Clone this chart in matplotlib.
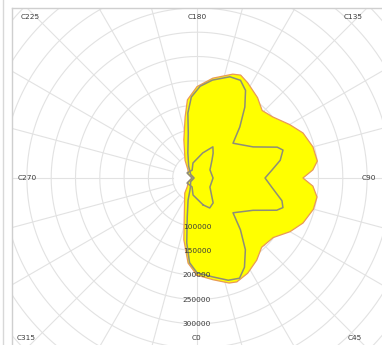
import numpy as np
import matplotlib
matplotlib.use("Agg")
import matplotlib.pyplot as plt
from matplotlib.patches import Rectangle
from matplotlib.lines import Line2D

# ---- data (C-plane angle in degrees, luminous intensity) ----
outer_c = [0, 9, 17, 21, 28, 36, 43, 52, 60, 67, 75, 81, 86, 90, 94, 98, 105, 113,
           120, 129, 136, 143, 152, 157, 161, 171, 180, 187, 191, 199, 214, 228, 245,
           270, 295, 312, 321, 342, 348, 354]
outer_i = [200000, 212000, 226000, 229000, 222000, 209000, 195000, 199000, 221000,
           237000, 248000, 250000, 239000, 218000, 239000, 250000, 247000, 237000,
           220000, 200000, 193000, 207000, 222000, 230000, 226000, 208000, 188000,
           162000, 128000, 83000, 44000, 25000, 20000, 10000, 20000, 27000, 40000,
           85000, 130000, 176000]

gray_c = [0, 9, 17, 23, 28, 34, 40, 46, 60, 68, 71, 75, 83, 90, 96, 102, 108, 111,
          119, 134, 140, 146, 151, 156, 162, 171, 178, 184, 188, 191, 200, 215, 240,
          270, 300, 322, 330, 338, 346, 351, 355]
gray_i = [195000, 206000, 220000, 224000, 208000, 178000, 139000, 103000, 133000,
          177000, 187000, 181000, 155000, 140000, 155000, 175000, 186000, 177000,
          132000, 103000, 137000, 176000, 206000, 220000, 219000, 204000, 189000,
          167000, 135000, 94000, 55000, 30000, 15000, 6000, 15000, 22000, 29000,
          49000, 83000, 135000, 175000]

star_c = [13, 23, 33, 38, 55, 90, 122, 140, 147, 153, 167, 195, 212, 243, 270, 297,
          331, 347]
star_i = [57000, 67000, 61000, 50000, 32500, 33000, 31500, 48000, 61000, 72000,
          53000, 32000, 19000, 23000, 10000, 23000, 21000, 36000]

radial_ticks = [100000, 150000, 200000, 250000, 300000]
c_labels = ["C0", "C45", "C90", "C135", "C180", "C225", "C270", "C315"]

# ---- layout ----
W, H = 382, 345
CX, CY = 197, 178            # chart centre in pixels (from top-left)
PX_PER_UNIT = 24.3 / 50000   # pixels per cd
R_PX = 262
RMAX = R_PX / PX_PER_UNIT

label_px = {"C0": (196, 338), "C45": (355, 338), "C90": (369, 178),
            "C135": (353, 17), "C180": (197, 17), "C225": (30, 17),
            "C270": (27, 178), "C315": (26, 338)}

GRID = "#e2e2e2"
TEXT = "#3a3a3a"

fig = plt.figure(figsize=(W / 100, H / 100), dpi=100)
fig.patch.set_facecolor("white")
ax = fig.add_axes([(CX - R_PX) / W, (H - CY - R_PX) / H, 2 * R_PX / W, 2 * R_PX / H],
                  projection="polar")
ax.set_theta_zero_location("S")
ax.set_theta_direction(1)
ax.set_ylim(0, RMAX)
ax.grid(False)
ax.set_xticks([])
ax.set_yticks([])
ax.spines["polar"].set_visible(False)
ax.patch.set_facecolor("white")

# grid circles and spokes
circ = np.linspace(0, 2 * np.pi, 361)
for r in np.arange(50000, RMAX, 50000):
    ax.plot(circ, np.full_like(circ, r), color=GRID, lw=0.8, zorder=1)
for a in range(0, 360, 15):
    t = np.deg2rad(a)
    ax.plot([t, t], [50000, RMAX], color=GRID, lw=0.8, zorder=1)


def closed(c, i):
    return np.deg2rad(np.r_[c, c[0]]), np.r_[i, i[0]]


th, rr = closed(outer_c, outer_i)
ax.fill(th, rr, color="#ffff00", zorder=2, lw=0)
ax.plot(th, rr, color="#e99a55", lw=0.9, zorder=3)

th, rr = closed(gray_c, gray_i)
ax.plot(th, rr, color="#8e8e78", lw=1.1, zorder=4)
th, rr = closed(star_c, star_i)
ax.plot(th, rr, color="#8e8e78", lw=1.1, zorder=4)

for v in radial_ticks:
    ax.text(0, v, str(v), ha="center", va="center", fontsize=5.3, color=TEXT, zorder=6)

# white margins outside the frame
fig.patches.append(Rectangle((0, 0), 12 / W, 1, transform=fig.transFigure,
                             facecolor="white", edgecolor="none", zorder=3))
fig.patches.append(Rectangle((0, 1 - 8 / H), 1, 8 / H, transform=fig.transFigure,
                             facecolor="white", edgecolor="none", zorder=3))
FRAME = "#cfcfcf"
fig.add_artist(Line2D([12 / W, 12 / W], [0, 1 - 8 / H], color=FRAME, lw=1, zorder=4))
fig.add_artist(Line2D([12 / W, 1], [1 - 8 / H, 1 - 8 / H], color=FRAME, lw=1, zorder=4))
fig.add_artist(Line2D([3.5 / W, 3.5 / W], [0, 1], color="#d8d8d8", lw=1, zorder=4))

for lab in c_labels:
    x, y = label_px[lab]
    fig.text(x / W, 1 - y / H, lab, ha="center", va="center", fontsize=5.3,
             color=TEXT, zorder=5)

fig.savefig("out.png", dpi=100)
